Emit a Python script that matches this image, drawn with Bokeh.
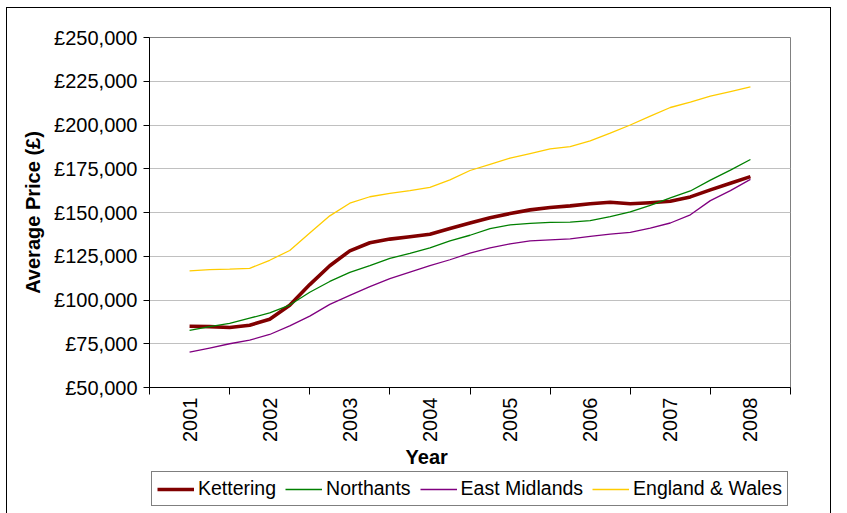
import math

from bokeh.plotting import figure
from bokeh.layouts import column
from bokeh.models import Range1d, FixedTicker, Legend, LegendItem, LinearAxis
from bokeh.embed import file_html
from bokeh.resources import INLINE

# Quarterly average house prices (GBP), Q1 2001 .. Q1 2008
kettering = [85000, 84800, 84300, 85600, 89000, 97000, 108800, 119600, 128100, 132700,
             134800, 136100, 137600, 140800, 144000, 147000, 149400, 151500, 152900, 153800,
             155000, 155900, 155000, 155600, 156400, 158900, 162900, 166700, 170500]
northants = [82600, 84800, 86700, 89600, 92600, 97100, 104400, 110600, 115800, 119600,
             123800, 126600, 129800, 133800, 137000, 140800, 142900, 143800, 144300, 144500,
             145400, 147700, 150300, 154100, 158300, 162300, 168500, 174200, 180300]
east_midlands = [70200, 72500, 75000, 77100, 80300, 85200, 90800, 97500, 102600, 107600,
                 112200, 115900, 119600, 123000, 126800, 129800, 132100, 133800, 134400, 134900,
                 136400, 137700, 138600, 141100, 144000, 148700, 156800, 162500, 168900]
england_wales = [116700, 117400, 117600, 118100, 122700, 128300, 138300, 148100, 155300, 159000,
                 160900, 162500, 164400, 168600, 174000, 177500, 181100, 183700, 186300, 187700,
                 190900, 195300, 200000, 205100, 210000, 213100, 216500, 219100, 221800]

years = [2001, 2002, 2003, 2004, 2005, 2006, 2007, 2008]
year_labels = ["2001", "2002", "2003", "2004", "2005", "2006", "2007", "2008"]
price_ticks = [50000, 75000, 100000, 125000, 150000, 175000, 200000, 225000, 250000]

series_names = ["Kettering", "Northants", "East Midlands", "England & Wales"]
series_values = [kettering, northants, east_midlands, england_wales]
series_colors = ["#800000", "#008000", "#800080", "#FFCC00"]
series_widths = [3.6, 1.3, 1.3, 1.3]

# time in years, one point per quarter starting at 2001
quarters = [years[0] + q / 4 for q in range(len(kettering))]

# horizontal spot (in years) where the x axis title is centred
YEAR_TITLE_POS = 2003.96

FONT = "Liberation Sans"

p = figure(width=823, height=462, output_backend="svg", toolbar_location=None,
           x_range=Range1d(years[0] - 0.5, years[-1] + 0.5),
           y_range=Range1d(price_ticks[0], price_ticks[-1]),
           min_border_left=142, min_border_right=40,
           min_border_top=29, min_border_bottom=82)

p.background_fill_color = "white"
p.border_fill_color = "white"
p.outline_line_color = "#808080"
p.outline_line_width = 1

# x axis: year labels in the middle of each band, tick marks on the band edges
xa = p.xaxis[0]
xa.ticker = FixedTicker(ticks=years,
                        minor_ticks=[y - 0.5 for y in years] + [years[-1] + 0.5])
xa.major_label_overrides = {y: s for y, s in zip(years, year_labels)}
xa.major_label_orientation = math.pi / 2
xa.major_tick_line_color = None
xa.minor_tick_in = 0
xa.minor_tick_out = 7
xa.minor_tick_line_color = "black"
xa.axis_line_color = "black"
xa.major_label_standoff = 3
xa.major_label_text_font = FONT
xa.major_label_text_font_size = "20px"
xa.major_label_text_color = "black"

# second, bare axis underneath that only carries the "Year" title
title_axis = LinearAxis(ticker=FixedTicker(ticks=[YEAR_TITLE_POS], minor_ticks=[]),
                        major_label_overrides={YEAR_TITLE_POS: "Year"},
                        axis_line_color=None, major_tick_line_color=None,
                        minor_tick_line_color=None, major_label_standoff=-5,
                        major_label_text_font=FONT, major_label_text_font_size="20px",
                        major_label_text_font_style="bold",
                        major_label_text_color="black")
p.add_layout(title_axis, "below")

# y axis in pounds
ya = p.yaxis[0]
ya.ticker = FixedTicker(ticks=price_ticks)
ya.major_label_overrides = {v: f"£{v:,}" for v in price_ticks}
ya.major_tick_in = 0
ya.major_tick_out = 6
ya.major_tick_line_color = "black"
ya.minor_tick_line_color = None
ya.axis_line_color = "black"
ya.major_label_standoff = 6
ya.major_label_text_font = FONT
ya.major_label_text_font_size = "20px"
ya.major_label_text_color = "black"
ya.axis_label = "Average Price (£)"
ya.axis_label_text_font = FONT
ya.axis_label_text_font_size = "20px"
ya.axis_label_text_font_style = "bold"
ya.axis_label_text_color = "black"
ya.axis_label_standoff = 7

p.xgrid.grid_line_color = None
p.ygrid.grid_line_color = "#c0c0c0"
p.ygrid.grid_line_width = 1

for vals, col, w in zip(series_values, series_colors, series_widths):
    p.line(quarters, vals, line_color=col, line_width=w, line_join="round")

# legend strip under the chart; its lines lie outside its own (0..1) view,
# so only the legend keys show
key = figure(width=823, height=43, output_backend="svg", toolbar_location=None,
             x_range=Range1d(0, 1), y_range=Range1d(0, 1),
             x_axis_type=None, y_axis_type=None, min_border=0)
key.background_fill_color = "white"
key.border_fill_color = "white"
key.outline_line_color = None
key.grid.visible = False

items = []
for name, vals, col, w in zip(series_names, series_values, series_colors, series_widths):
    r = key.line(quarters, vals, line_color=col, line_width=w)
    items.append(LegendItem(label=name, renderers=[r]))

legend = Legend(items=items, orientation="horizontal", location=(2, 7),
                label_text_font=FONT, label_text_font_size="19.5px",
                label_text_color="black", glyph_width=37, glyph_height=20,
                label_standoff=4, spacing=9, padding=5, margin=0,
                border_line_color="black", border_line_width=1,
                background_fill_color="white", background_fill_alpha=1)
key.add_layout(legend, "center")

# thin black chart border around the whole block
page = column(p, key, spacing=0,
              styles={"outline": "1px solid black", "margin-left": "7px", "margin-top": "8px"})

open("out.html", "w").write(file_html(page, INLINE))
